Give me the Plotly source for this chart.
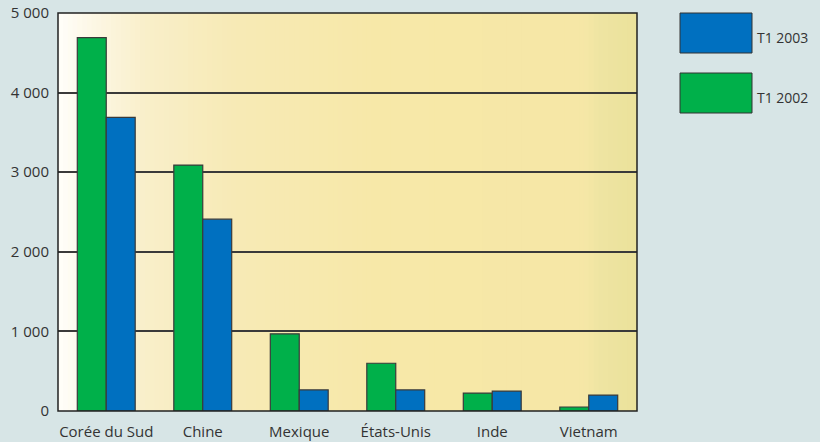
import plotly.graph_objects as go

categories = ["Corée du Sud", "Chine", "Mexique", "États-Unis", "Inde", "Vietnam"]
t1_2002 = [4690, 3090, 970, 600, 225, 50]
t1_2003 = [3690, 2410, 265, 265, 250, 200]
tick_vals = [0, 1000, 2000, 3000, 4000, 5000]
tick_text = ["0", "1 000", "2 000", "3 000", "4 000", "5 000"]

FONT = "Open Sans"
GREEN = "#00b04a"
BLUE = "#0070c0"
OUTLINE = "#3a3a3a"

fig = go.Figure()
fig.add_trace(go.Bar(x=categories, y=t1_2002, name="T1 2002",
                     marker=dict(color=GREEN, line=dict(color=OUTLINE, width=1.2)),
                     showlegend=False))
fig.add_trace(go.Bar(x=categories, y=t1_2003, name="T1 2003",
                     marker=dict(color=BLUE, line=dict(color=OUTLINE, width=1.2)),
                     showlegend=False))

# background gradient (horizontal) via thin stripes
stops = [(0.0, (255, 254, 250)), (0.05, (253, 248, 232)), (0.15, (249, 239, 202)),
         (0.30, (247, 234, 182)), (0.55, (247, 232, 168)), (0.91, (246, 231, 166)),
         (0.935, (238, 228, 162)), (1.0, (235, 226, 154))]

def col_at(t):
    for (a, ca), (b, cb) in zip(stops[:-1], stops[1:]):
        if a <= t <= b:
            f = (t - a) / (b - a) if b > a else 0
            c = [round(ca[i] + (cb[i] - ca[i]) * f) for i in range(3)]
            return "rgb(%d,%d,%d)" % tuple(c)
    return "rgb(%d,%d,%d)" % stops[-1][1]

shapes = []
N = 120
for i in range(N):
    x0 = i / N
    x1 = (i + 1) / N + 0.002
    shapes.append(dict(type="rect", xref="x domain", yref="y domain",
                       x0=x0, x1=min(x1, 1.0), y0=0, y1=1, layer="below",
                       line=dict(width=0), fillcolor=col_at((i + 0.5) / N)))

# frame
shapes.append(dict(type="rect", xref="x domain", yref="y domain", x0=0, x1=1, y0=0, y1=1,
                   layer="above", line=dict(color="#222222", width=1.5), fillcolor="rgba(0,0,0,0)"))

# legend boxes
PW = 637 - 58
PH = 411 - 13
leg = [("T1 2003", BLUE, 13, 53), ("T1 2002", GREEN, 73, 113)]
annotations = []
for label, color, ytop, ybot in leg:
    shapes.append(dict(type="rect", xref="paper", yref="paper",
                       x0=(680 - 58) / PW, x1=(752 - 58) / PW,
                       y0=(411 - ybot) / PH, y1=(411 - ytop) / PH,
                       line=dict(color="#333333", width=1), fillcolor=color))
    annotations.append(dict(xref="paper", yref="paper",
                            x=(755 - 58) / PW, y=(411 - (ybot - 16)) / PH,
                            text=label, showarrow=False, xanchor="left", yanchor="middle",
                            font=dict(family=FONT, size=14, color="#333333")))

fig.update_layout(
    width=820, height=442,
    margin=dict(l=58, r=183, t=13, b=31),
    paper_bgcolor="#d7e5e6",
    plot_bgcolor="rgba(0,0,0,0)",
    barmode="group", bargap=0.4, bargroupgap=0,
    font=dict(family=FONT, size=15, color="#333333"),
    shapes=shapes, annotations=annotations,
    xaxis=dict(showgrid=False, ticks="", tickfont=dict(size=15), showline=False,
               range=[-0.5, 5.5], automargin=False, ticklabelstandoff=10),
    yaxis=dict(range=[0, 5000], tickvals=tick_vals, ticktext=tick_text,
               showgrid=True, gridcolor="#3a3a3a", gridwidth=1.5, zeroline=False,
               ticks="", ticklabelstandoff=8, tickfont=dict(size=15), automargin=False),
)

fig.write_html("out.html", config={"displayModeBar": False},
               post_script="document.body.style.margin='0';document.body.style.overflow='hidden';")
